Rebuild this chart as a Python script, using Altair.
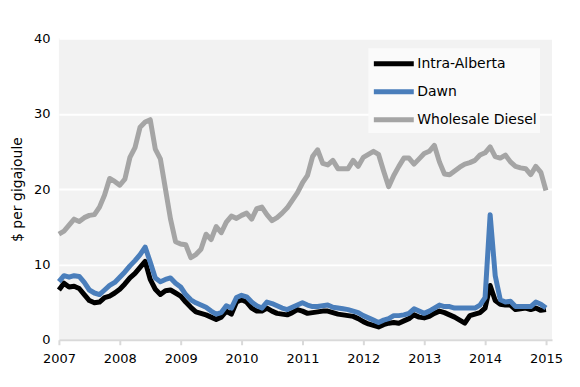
import altair as alt
import pandas as pd

months = pd.date_range("2007-01-01", periods=97, freq="MS")

alberta = [
    6.6, 7.5, 7.0, 7.1, 6.8, 6.0, 5.2, 4.9, 5.0, 5.6, 5.8, 6.2,
    6.7, 7.4, 8.2, 8.8, 9.6, 10.4, 8.0, 6.7, 6.0, 6.5, 6.6, 6.2,
    5.8, 5.0, 4.3, 3.7, 3.5, 3.3, 3.0, 2.7, 3.0, 3.8, 3.4, 5.0,
    5.3, 5.0, 4.2, 3.8, 3.8, 4.2, 3.8, 3.5, 3.4, 3.3, 3.6, 4.0,
    3.8, 3.5, 3.6, 3.7, 3.8, 3.8, 3.6, 3.4, 3.3, 3.2, 3.1, 2.8,
    2.4, 2.1, 1.9, 1.7, 2.0, 2.2, 2.3, 2.2, 2.5, 2.8, 3.3, 3.0,
    2.9, 3.1, 3.5, 3.8, 3.6, 3.3, 3.0, 2.6, 2.2, 3.2, 3.4, 3.6,
    4.2, 7.2, 5.2, 4.7, 4.6, 4.6, 4.0, 4.1, 4.2, 4.0, 4.2, 3.9,
    4.0,
]

dawn = [
    7.7, 8.5, 8.3, 8.5, 8.4, 7.6, 6.6, 6.2, 6.0, 6.6, 7.2, 7.6,
    8.3, 9.0, 9.8, 10.5, 11.3, 12.3, 10.3, 8.2, 7.7, 8.0, 8.2, 7.5,
    7.0, 6.0, 5.3, 4.9, 4.6, 4.3, 3.8, 3.4, 3.6, 4.5, 4.2, 5.6,
    5.9, 5.7, 5.0, 4.5, 4.2, 5.0, 4.8, 4.5, 4.2, 4.0, 4.3, 4.6,
    4.9, 4.6, 4.4, 4.4, 4.5, 4.6, 4.3, 4.2, 4.1, 4.0, 3.8, 3.6,
    3.2, 2.9, 2.6, 2.3, 2.6, 2.8, 3.2, 3.2, 3.3, 3.5, 4.1, 3.8,
    3.5, 3.8, 4.2, 4.6, 4.4, 4.4, 4.2, 4.2, 4.2, 4.2, 4.2, 4.6,
    5.6, 16.6, 8.5, 5.3, 5.0, 5.1, 4.4, 4.4, 4.4, 4.4, 5.0, 4.7,
    4.2,
]

diesel = [
    14.0, 14.4, 15.2, 16.0, 15.7, 16.2, 16.5, 16.6, 17.6, 19.2, 21.4, 21.0,
    20.5, 21.3, 24.2, 25.5, 28.2, 28.9, 29.2, 25.3, 24.0, 20.0, 16.0, 13.0,
    12.7, 12.6, 10.9, 11.3, 12.0, 14.0, 13.3, 15.0, 14.2, 15.6, 16.4, 16.1,
    16.5, 16.8, 16.0, 17.4, 17.6, 16.6, 15.8, 16.2, 16.8, 17.5, 18.5, 19.5,
    20.8, 21.8, 24.3, 25.2, 23.4, 23.2, 23.8, 22.7, 22.7, 22.7, 23.8, 23.0,
    24.2, 24.6, 25.0, 24.6, 22.4, 20.3, 21.8, 23.0, 24.1, 24.1, 23.3, 24.0,
    24.7, 25.0, 25.8, 23.6, 22.0, 21.9, 22.4, 22.9, 23.3, 23.5, 23.8, 24.5,
    24.8, 25.6, 24.3, 24.1, 24.5, 23.6, 23.0, 22.8, 22.7, 21.9, 23.0, 22.2,
    19.8,
]

series_names = ["Intra-Alberta", "Dawn", "Wholesale Diesel"]
series_colors = ["#000000", "#4a7ebb", "#a5a5a5"]

t = [d.year + (d.month - 1) / 12 for d in months]
rows = []
for name, vals in zip(series_names, [alberta, dawn, diesel]):
    for tt, v in zip(t, vals):
        rows.append({"t": tt, "price": v, "series": name})
df = pd.DataFrame(rows)

FONT = "DejaVu Sans"

chart = (
    alt.Chart(df)
    .mark_line(strokeWidth=5, strokeJoin="round")
    .encode(
        x=alt.X(
            "t:Q",
            scale=alt.Scale(domain=[2007, 2015.1], nice=False, zero=False),
            axis=alt.Axis(
                values=list(range(2007, 2016)),
                format="d",
                title=None,
                grid=False,
                domainColor="#d9d9d9",
                domainWidth=2,
                tickColor="#d9d9d9",
                tickWidth=2,
                tickSize=5,
                labelFontSize=13,
                labelColor="#000000",
                labelPadding=8,
                labelFlush=False,
            ),
        ),
        y=alt.Y(
            "price:Q",
            scale=alt.Scale(domain=[0, 40], nice=False),
            axis=alt.Axis(
                values=[0, 10, 20, 30, 40],
                title="$ per gigajoule",
                domain=False,
                ticks=False,
                gridColor="#ffffff",
                gridWidth=2,
                labelFontSize=13,
                labelColor="#000000",
                labelPadding=9,
                titleFontSize=14,
                titleFontWeight="normal",
                titleColor="#000000",
                titleX=-41,
                titleBaseline="middle",
            ),
        ),
        color=alt.Color(
            "series:N",
            scale=alt.Scale(domain=series_names, range=series_colors),
            sort=series_names,
            legend=alt.Legend(
                title=None,
                orient="none",
                legendX=310,
                legendY=10,
                fillColor="#fafafa",
                padding=3,
                symbolType="M-1,0H3",
                symbolSize=400,
                symbolStrokeWidth=5,
                labelFontSize=14,
                labelColor="#000000",
                labelOffset=21,
                rowPadding=5,
            ),
        ),
    )
    .properties(
        width=494,
        height=302,
        autosize=alt.AutoSizeParams(type="none"),
        padding={"left": 51, "top": 30, "right": 20, "bottom": 40},
    )
    .configure(font=FONT)
    .configure_view(fill="#f2f2f2", strokeWidth=0)
)

chart.save("out.html", embed_options={"renderer": "svg", "actions": False})
